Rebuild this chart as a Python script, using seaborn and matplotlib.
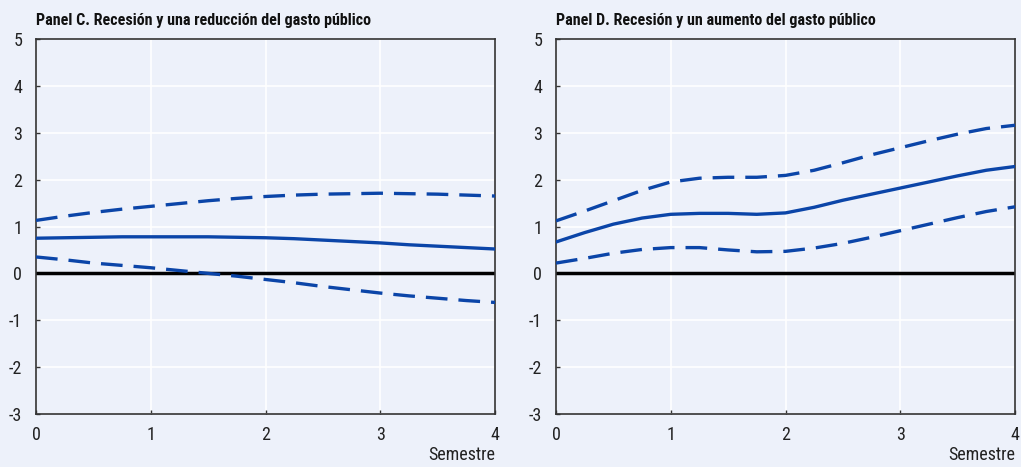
import matplotlib
matplotlib.use("Agg")
import matplotlib.pyplot as plt
import seaborn as sns
import pandas as pd
from matplotlib import font_manager

sns.set_theme(style="darkgrid")
fams = sorted({f.name for f in font_manager.fontManager.ttflist})
narrow = None
for cand in ["Liberation Sans Narrow", "Arial Narrow", "Roboto Condensed", "Open Sans Condensed"]:
    if cand in fams:
        narrow = cand
        break
if narrow is None:
    for n in fams:
        if "Narrow" in n or "Condensed" in n:
            narrow = n
            break
if narrow is None:
    narrow = "Liberation Sans"
plt.rcParams['font.family'] = [narrow, 'DejaVu Sans']

semestre = [0, 0.25, 0.5, 0.75, 1, 1.25, 1.5, 1.75, 2, 2.25, 2.5, 2.75, 3, 3.25, 3.5, 3.75, 4]

c_mid = [0.75, 0.76, 0.77, 0.78, 0.78, 0.78, 0.78, 0.77, 0.76, 0.74, 0.71, 0.68, 0.65, 0.61, 0.58, 0.55, 0.52]
c_up = [1.13, 1.22, 1.30, 1.37, 1.43, 1.49, 1.55, 1.60, 1.64, 1.67, 1.69, 1.70, 1.71, 1.70, 1.69, 1.67, 1.65]
c_lo = [0.35, 0.29, 0.22, 0.17, 0.12, 0.06, 0.00, -0.06, -0.13, -0.20, -0.28, -0.35, -0.42, -0.48, -0.53, -0.58, -0.62]

d_mid = [0.67, 0.87, 1.05, 1.18, 1.26, 1.28, 1.28, 1.26, 1.29, 1.41, 1.56, 1.69, 1.82, 1.95, 2.08, 2.20, 2.28]
d_up = [1.12, 1.33, 1.55, 1.77, 1.95, 2.03, 2.05, 2.05, 2.09, 2.20, 2.36, 2.53, 2.68, 2.83, 2.97, 3.09, 3.16]
d_lo = [0.22, 0.32, 0.43, 0.51, 0.55, 0.55, 0.50, 0.46, 0.47, 0.54, 0.64, 0.77, 0.91, 1.05, 1.19, 1.32, 1.42]

titles = ["Panel C. Recesión y una reducción del gasto público",
          "Panel D. Recesión y un aumento del gasto público"]
xticks = [0, 1, 2, 3, 4]
yticks = [-3, -2, -1, 0, 1, 2, 3, 4, 5]
xlabel = "Semestre"

bg = "#edf1fa"
blue = "#0b45a8"
is_narrow = narrow != "Liberation Sans"
title_fs = 11.5 if is_narrow else 10.5
tick_fs = 13 if is_narrow else 12

fig = plt.figure(figsize=(10.21, 4.67), dpi=100, facecolor=bg)
rects = [[36/1021, 53/467, 459/1021, 375/467], [556/1021, 53/467, 459/1021, 375/467]]
panels = [(c_mid, c_up, c_lo), (d_mid, d_up, d_lo)]
dash = (0, (6.5, 3.3))

for rect, title, (mid, up, lo) in zip(rects, titles, panels):
    ax = fig.add_axes(rect)
    ax.set_facecolor(bg)
    df = pd.DataFrame({"x": semestre, "mid": mid, "up": up, "lo": lo})
    ax.axhline(0, color="black", lw=2.5, zorder=2)
    sns.lineplot(data=df, x="x", y="mid", ax=ax, color=blue, lw=2.4, zorder=3)
    sns.lineplot(data=df, x="x", y="up", ax=ax, color=blue, lw=2.4, linestyle=dash, zorder=3)
    sns.lineplot(data=df, x="x", y="lo", ax=ax, color=blue, lw=2.4, linestyle=dash, zorder=3)
    ax.set_xlim(0, 4)
    ax.set_ylim(-3, 5)
    ax.set_xticks(xticks)
    ax.set_yticks(yticks)
    ax.set_xticklabels([str(t) for t in xticks], fontsize=tick_fs, color="#222222")
    ax.set_yticklabels([str(t) for t in yticks], fontsize=tick_fs, color="#222222")
    ax.grid(True, color="white", lw=1.2)
    ax.set_axisbelow(True)
    for s in ax.spines.values():
        s.set_visible(True)
        s.set_color("#333333")
        s.set_linewidth(1.2)
    ax.tick_params(axis="both", direction="in", length=3, width=1, color="#333333",
                   bottom=True, left=True)
    ax.tick_params(axis="x", pad=9)
    ax.tick_params(axis="y", pad=10)
    ax.set_xlabel(xlabel, fontsize=tick_fs, color="#222222", loc="right", labelpad=1)
    ax.set_ylabel("")
    ax.set_title(title, fontsize=title_fs, fontweight="bold", loc="left", pad=10, color="#111111")

fig.savefig("out.png", dpi=100, facecolor=bg)
